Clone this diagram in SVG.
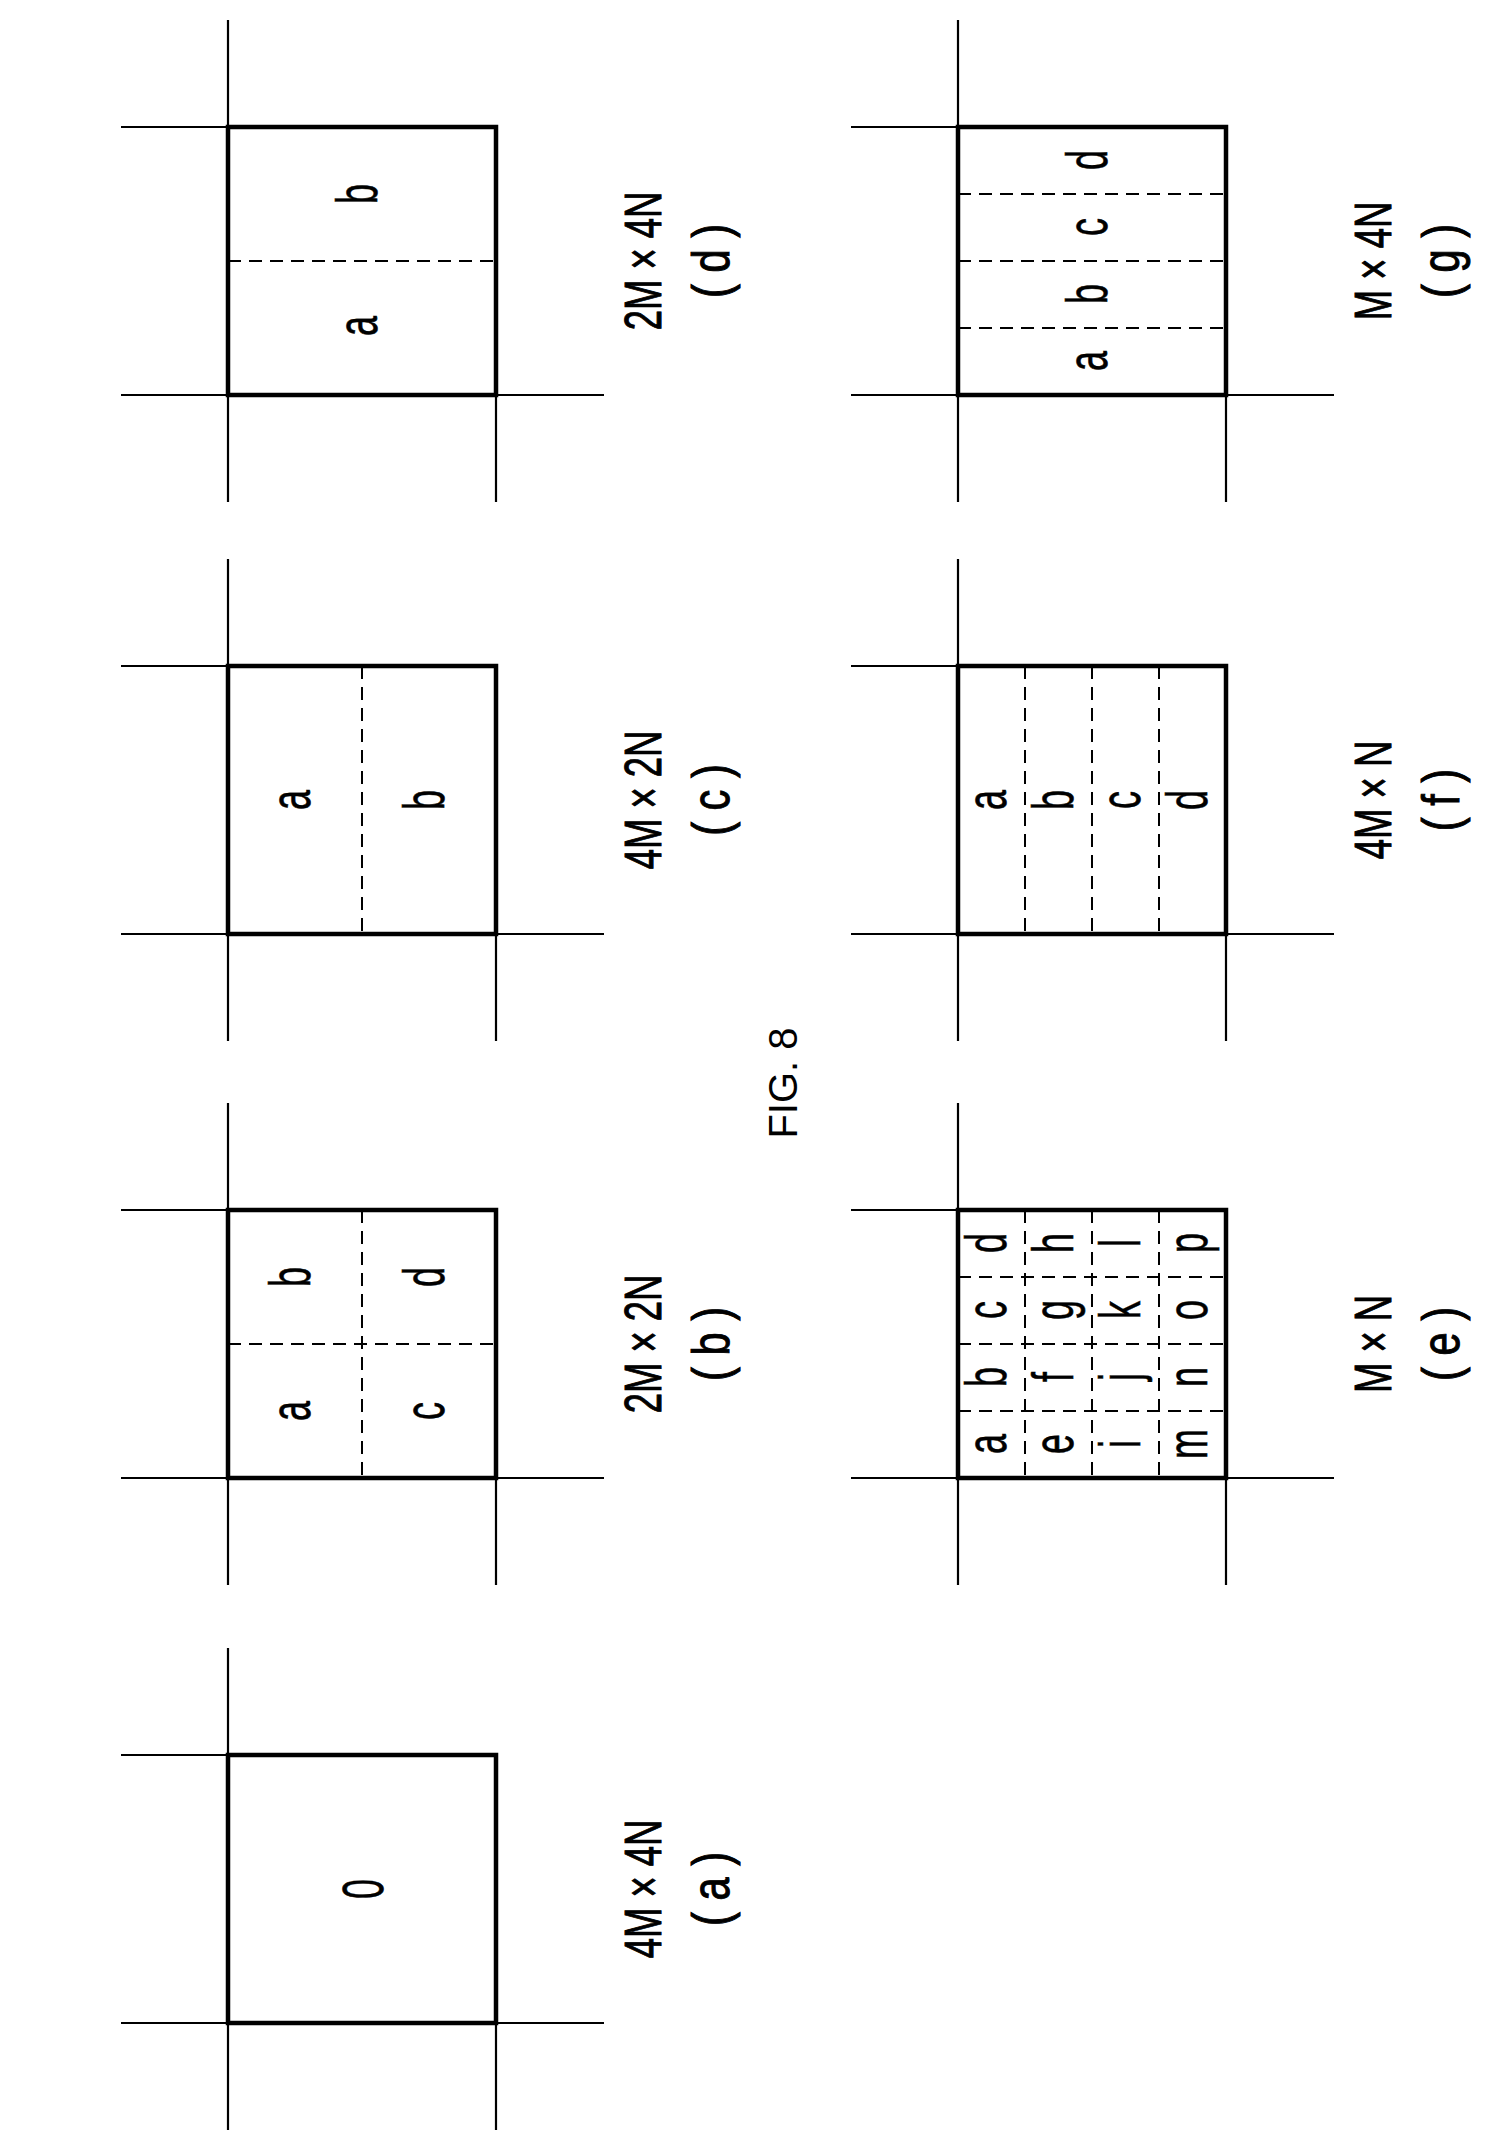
<svg xmlns="http://www.w3.org/2000/svg" width="1488" height="2138" viewBox="0 0 1488 2138">
<style>
.ln{stroke:#000;stroke-width:2.2;fill:none}
.bx{stroke:#000;stroke-width:4.5;fill:none}
.ds{stroke:#000;stroke-width:2;stroke-dasharray:13 8;fill:none}
.lt{font-family:"Liberation Sans",Arial,sans-serif;font-size:58px;text-anchor:middle;fill:#000;stroke:#000;stroke-width:0.6}
.lb{font-family:"Liberation Sans",Arial,sans-serif;font-size:52px;text-anchor:middle;fill:#000;stroke:#000;stroke-width:1}
.fg{font-family:"Liberation Sans",Arial,sans-serif;font-size:40px;text-anchor:middle;fill:#000}
</style>
<rect width="1488" height="2138" fill="#fff"/>
<text class="fg" transform="translate(797,1083) rotate(-90)">FIG. 8</text>
<g id="connectors">
<path class="ln" d="M121 127H228M121 395H604M228 20V502M496 395V502"/>
<path class="ln" d="M121 666H228M121 934H604M228 559V1041M496 934V1041"/>
<path class="ln" d="M121 1210H228M121 1478H604M228 1103V1585M496 1478V1585"/>
<path class="ln" d="M121 1755H228M121 2023H604M228 1648V2130M496 2023V2130"/>
<path class="ln" d="M851 127H958M851 395H1334M958 20V502M1226 395V502"/>
<path class="ln" d="M851 666H958M851 934H1334M958 559V1041M1226 934V1041"/>
<path class="ln" d="M851 1210H958M851 1478H1334M958 1103V1585M1226 1478V1585"/>
</g>
<g id="panel-a">
<rect class="bx" x="228" y="1755" width="268" height="268"/>
<text class="lt" transform="translate(383,1889) rotate(-90) scale(0.62,1)">0</text>
<text class="lb" transform="translate(661,1889) rotate(-90) scale(0.7,1)">4M × 4N</text>
<text class="lb" transform="translate(729,1889) rotate(-90) scale(0.8,1)">( a )</text>
</g>
<g id="panel-b">
<rect class="bx" x="228" y="1210" width="268" height="268"/>
<path class="ds" d="M362 1210V1478M228 1344H496"/>
<text class="lt" transform="translate(310,1411) rotate(-90) scale(0.62,1)">a</text>
<text class="lt" transform="translate(310,1277) rotate(-90) scale(0.62,1)">b</text>
<text class="lt" transform="translate(444,1411) rotate(-90) scale(0.62,1)">c</text>
<text class="lt" transform="translate(444,1277) rotate(-90) scale(0.62,1)">d</text>
<text class="lb" transform="translate(661,1344) rotate(-90) scale(0.7,1)">2M × 2N</text>
<text class="lb" transform="translate(729,1344) rotate(-90) scale(0.8,1)">( b )</text>
</g>
<g id="panel-c">
<rect class="bx" x="228" y="666" width="268" height="268"/>
<path class="ds" d="M362 666V934"/>
<text class="lt" transform="translate(310,800) rotate(-90) scale(0.62,1)">a</text>
<text class="lt" transform="translate(444,800) rotate(-90) scale(0.62,1)">b</text>
<text class="lb" transform="translate(661,800) rotate(-90) scale(0.7,1)">4M × 2N</text>
<text class="lb" transform="translate(729,800) rotate(-90) scale(0.8,1)">( c )</text>
</g>
<g id="panel-d">
<rect class="bx" x="228" y="127" width="268" height="268"/>
<path class="ds" d="M228 261H496"/>
<text class="lt" transform="translate(377,326) rotate(-90) scale(0.62,1)">a</text>
<text class="lt" transform="translate(377,194) rotate(-90) scale(0.62,1)">b</text>
<text class="lb" transform="translate(661,261) rotate(-90) scale(0.7,1)">2M × 4N</text>
<text class="lb" transform="translate(729,261) rotate(-90) scale(0.8,1)">( d )</text>
</g>
<g id="panel-e">
<rect class="bx" x="958" y="1210" width="268" height="268"/>
<path class="ds" d="M1025 1210V1478M1092 1210V1478M1159 1210V1478M958 1277H1226M958 1344H1226M958 1411H1226"/>
<g class="lt">
<text transform="translate(1006,1444) rotate(-90) scale(0.62,1)">a</text>
<text transform="translate(1006,1377) rotate(-90) scale(0.62,1)">b</text>
<text transform="translate(1006,1310) rotate(-90) scale(0.62,1)">c</text>
<text transform="translate(1006,1243) rotate(-90) scale(0.62,1)">d</text>
<text transform="translate(1073,1444) rotate(-90) scale(0.62,1)">e</text>
<text transform="translate(1073,1377) rotate(-90) scale(0.62,1)">f</text>
<text transform="translate(1073,1310) rotate(-90) scale(0.62,1)">g</text>
<text transform="translate(1073,1243) rotate(-90) scale(0.62,1)">h</text>
<text transform="translate(1140,1444) rotate(-90) scale(0.62,1)">i</text>
<text transform="translate(1140,1377) rotate(-90) scale(0.62,1)">j</text>
<text transform="translate(1140,1310) rotate(-90) scale(0.62,1)">k</text>
<text transform="translate(1140,1243) rotate(-90) scale(0.62,1)">l</text>
<text transform="translate(1207,1444) rotate(-90) scale(0.62,1)">m</text>
<text transform="translate(1207,1377) rotate(-90) scale(0.62,1)">n</text>
<text transform="translate(1207,1310) rotate(-90) scale(0.62,1)">o</text>
<text transform="translate(1207,1243) rotate(-90) scale(0.62,1)">p</text>
</g>
<text class="lb" transform="translate(1391,1344) rotate(-90) scale(0.7,1)">M × N</text>
<text class="lb" transform="translate(1459,1344) rotate(-90) scale(0.8,1)">( e )</text>
</g>
<g id="panel-f">
<rect class="bx" x="958" y="666" width="268" height="268"/>
<path class="ds" d="M1025 666V934M1092 666V934M1159 666V934"/>
<text class="lt" transform="translate(1006,800) rotate(-90) scale(0.62,1)">a</text>
<text class="lt" transform="translate(1073,800) rotate(-90) scale(0.62,1)">b</text>
<text class="lt" transform="translate(1140,800) rotate(-90) scale(0.62,1)">c</text>
<text class="lt" transform="translate(1207,800) rotate(-90) scale(0.62,1)">d</text>
<text class="lb" transform="translate(1391,800) rotate(-90) scale(0.7,1)">4M × N</text>
<text class="lb" transform="translate(1459,800) rotate(-90) scale(0.8,1)">( f )</text>
</g>
<g id="panel-g">
<rect class="bx" x="958" y="127" width="268" height="268"/>
<path class="ds" d="M958 194H1226M958 261H1226M958 328H1226"/>
<text class="lt" transform="translate(1107,361) rotate(-90) scale(0.62,1)">a</text>
<text class="lt" transform="translate(1107,294) rotate(-90) scale(0.62,1)">b</text>
<text class="lt" transform="translate(1107,227) rotate(-90) scale(0.62,1)">c</text>
<text class="lt" transform="translate(1107,160) rotate(-90) scale(0.62,1)">d</text>
<text class="lb" transform="translate(1391,261) rotate(-90) scale(0.7,1)">M × 4N</text>
<text class="lb" transform="translate(1459,261) rotate(-90) scale(0.8,1)">( g )</text>
</g>
</svg>
